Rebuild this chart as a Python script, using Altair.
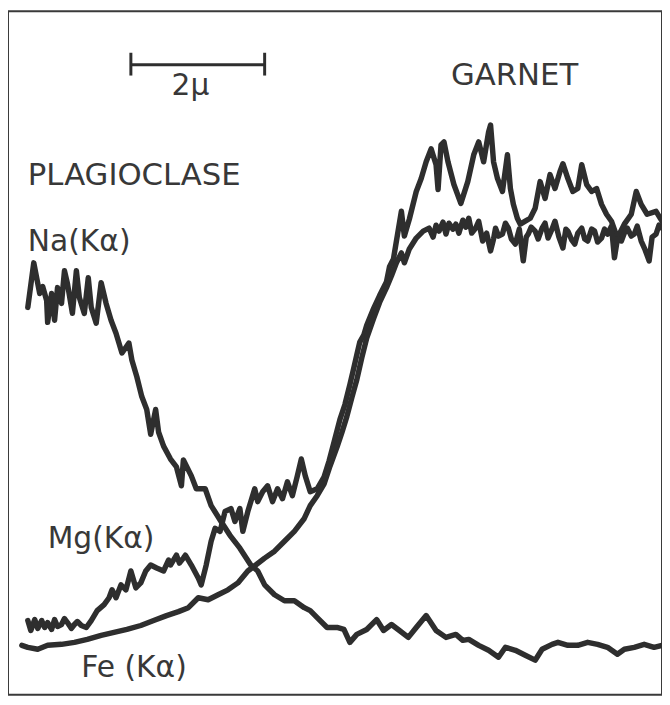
import altair as alt
import pandas as pd

# Electron-microprobe step scan across a plagioclase / garnet contact.
# x: position along the scan (scan units; 135 units = 2 micrometres)
# y: X-ray intensity (arbitrary counts)

NA_X = [20, 26, 32, 35, 39, 40, 44, 47, 50, 54, 57, 60, 65, 69, 72, 77, 81, 84, 89, 94, 99, 104,
        109, 115, 122, 125, 130, 135, 140, 144, 149, 152, 157, 164, 170, 175, 177, 185, 190,
        199, 205, 215, 224, 234, 245, 252, 259, 269, 279, 289, 299, 305, 312, 322, 332, 339,
        345, 352, 362, 372, 379, 387, 395, 404, 412, 422, 432, 442, 452, 459, 465, 475, 485,
        495, 502, 512, 522, 532, 539, 549, 555, 565, 575, 585, 595, 605, 615, 622, 632, 642,
        652, 660]
NA_Y = [391, 436, 405, 412, 398, 376, 405, 378, 411, 395, 428, 415, 385, 428, 401, 385, 421, 391, 375,
        416, 395, 378, 365, 345, 355, 338, 321, 301, 288, 263, 288, 265, 251, 238, 230, 211,
        237, 221, 208, 208, 191, 175, 161, 148, 131, 125, 111, 101, 95, 95, 88, 85, 78, 68,
        68, 66, 53, 61, 66, 76, 65, 71, 65, 58, 68, 80, 65, 58, 61, 55, 56, 50, 45, 38, 48,
        45, 40, 35, 46, 51, 53, 50, 50, 53, 51, 48, 41, 46, 48, 51, 48, 50]

MG_X = [20, 23, 27, 30, 34, 37, 40, 44, 47, 50, 54, 57, 60, 64, 67, 70, 74, 79, 84, 90, 97,
        102, 105, 109, 114, 119, 124, 129, 134, 139, 144, 150, 157, 162, 164, 170, 173, 177,
        179, 185, 192, 195, 200, 205, 209, 214, 219, 225, 229, 234, 237, 242, 249, 252, 257,
        262, 267, 272, 277, 282, 287, 292, 296, 300, 305, 312, 319, 324, 329, 335, 340, 345,
        349, 352, 355, 359, 362, 369, 375, 382, 385, 389, 392, 397, 400, 405, 412, 417, 422,
        427, 432, 434, 437, 440, 444, 450, 457, 464, 470, 475, 480, 485, 487, 490, 494, 499,
        504, 507, 510, 514, 517, 522, 527, 532, 537, 542, 547, 552, 557, 560, 565, 570, 575,
        579, 584, 589, 594, 599, 604, 609, 615, 622, 629, 634, 639, 645, 654, 660]
MG_Y = [75, 65, 76, 67, 75, 68, 73, 66, 76, 69, 71, 77, 73, 67, 71, 74, 70, 68, 75, 85, 91,
        98, 106, 98, 111, 106, 125, 108, 113, 125, 131, 128, 125, 136, 131, 141, 133, 138,
        141, 131, 118, 111, 131, 155, 168, 165, 185, 188, 175, 188, 165, 185, 208, 195, 205,
        211, 195, 208, 198, 215, 201, 221, 238, 221, 205, 208, 220, 236, 255, 278, 293, 313,
        330, 343, 356, 363, 373, 390, 403, 417, 432, 440, 458, 488, 463, 480, 508, 521, 538,
        551, 535, 510, 555, 558, 538, 515, 496, 518, 545, 558, 538, 568, 575, 538, 521, 508,
        545, 511, 495, 481, 475, 478, 481, 491, 518, 501, 525, 511, 528, 536, 521, 508, 511,
        535, 515, 508, 511, 495, 485, 478, 461, 475, 485, 508, 495, 485, 488, 478]

FE_X = [14, 20, 30, 40, 54, 67, 80, 94, 107, 120, 134, 147, 160, 172, 182, 192, 202, 212,
        222, 232, 242, 250, 259, 269, 279, 289, 299, 305, 312, 319, 325, 332, 337, 342, 347,
        352, 357, 362, 369, 375, 382, 387, 392, 397, 400, 405, 412, 419,
        425, 429, 432, 435, 439, 442, 445, 449, 452, 455, 459, 462, 465, 468, 472, 475, 479,
        483, 487, 490, 492, 495, 499, 502, 505, 508, 512, 516, 520, 523, 525, 528, 532, 535,
        539, 542, 545, 549, 552, 556, 560, 563, 565, 569, 572, 575, 579, 582, 585, 589, 592,
        595, 599, 602, 605, 609, 612, 615, 619, 622, 625, 629, 632, 635, 639, 643, 647, 650,
        654, 657, 660]
FE_Y = [50, 48, 46, 50, 51, 53, 56, 60, 63, 66, 70, 75, 80, 84, 88, 98, 96, 101, 106, 113,
        125, 131, 138, 145, 155, 165, 178, 191, 201, 213, 231, 250, 265, 281, 300, 318, 340,
        360, 380, 396, 411, 423, 436, 446, 436, 450, 461, 468,
        471, 462, 474, 468, 477, 465, 476, 470, 475, 466, 479, 472, 481, 466, 471, 478, 458,
        466, 448, 460, 471, 463, 465, 476, 471, 460, 455, 470, 438, 462, 465, 472, 468, 460,
        471, 476, 461, 470, 478, 462, 451, 470, 468, 459, 455, 466, 471, 460, 458, 470, 468,
        457, 461, 470, 465, 473, 441, 460, 458, 466, 471, 463, 465, 473, 458, 449, 438, 462,
        465, 474, 471]

HEADINGS = ["PLAGIOCLASE", "GARNET"]
HEADING_X = [20, 447]
HEADING_Y = [515, 615]

LABELS = ["Na(Kα)", "Mg(Kα)", "Fe (Kα)", "2μ"]
LABEL_X = [20, 40, 74, 165]
LABEL_Y = [448, 148, 18, 605]

rows = []
for name, xs, ys in (("Na", NA_X, NA_Y), ("Mg", MG_X, MG_Y), ("Fe", FE_X, FE_Y)):
    for i, (x, y) in enumerate(zip(xs, ys)):
        rows.append({"element": name, "i": i, "pos": x, "counts": y})
traces = pd.DataFrame(rows)

headings = pd.DataFrame({"text": HEADINGS, "pos": HEADING_X, "counts": HEADING_Y})
labels = pd.DataFrame({"text": LABELS, "pos": LABEL_X, "counts": LABEL_Y})

# 2 micrometre scale bar (135 scan units)
bar = pd.DataFrame({"pos": [124, 124, 259], "pos2": [259, 124, 259],
                    "counts": [636, 625, 625], "counts2": [636, 648, 648]})

xs = alt.Scale(domain=[0, 660], nice=False, zero=False)
ys = alt.Scale(domain=[0, 690], nice=False, zero=False)

ink = "#2e2e2e"

lines = alt.Chart(traces).mark_line(color=ink, strokeWidth=5.5, strokeJoin="round",
                                    strokeCap="round", clip=True).encode(
    x=alt.X("pos:Q", scale=xs, axis=None),
    y=alt.Y("counts:Q", scale=ys, axis=None),
    detail="element:N",
    order="i:Q",
)

head_text = alt.Chart(headings).mark_text(align="left", baseline="alphabetic",
                                          font="DejaVu Sans", fontSize=31,
                                          color="#383838").encode(
    x=alt.X("pos:Q", scale=xs, axis=None),
    y=alt.Y("counts:Q", scale=ys, axis=None),
    text="text:N",
)

label_text = alt.Chart(labels).mark_text(align="left", baseline="alphabetic",
                                         font="DejaVu Sans", fontSize=30,
                                         color="#383838").encode(
    x=alt.X("pos:Q", scale=xs, axis=None),
    y=alt.Y("counts:Q", scale=ys, axis=None),
    text="text:N",
)

scalebar = alt.Chart(bar).mark_rule(color=ink, strokeWidth=3).encode(
    x=alt.X("pos:Q", scale=xs, axis=None),
    x2="pos2:Q",
    y=alt.Y("counts:Q", scale=ys, axis=None),
    y2="counts2:Q",
)

chart = alt.layer(lines, scalebar, head_text, label_text).properties(
    width=660, height=690, padding=0,
    background="white",
).configure_view(stroke="#3a3a3a", strokeWidth=2)

chart.save("out.html", embed_options={"renderer": "svg", "actions": False})
